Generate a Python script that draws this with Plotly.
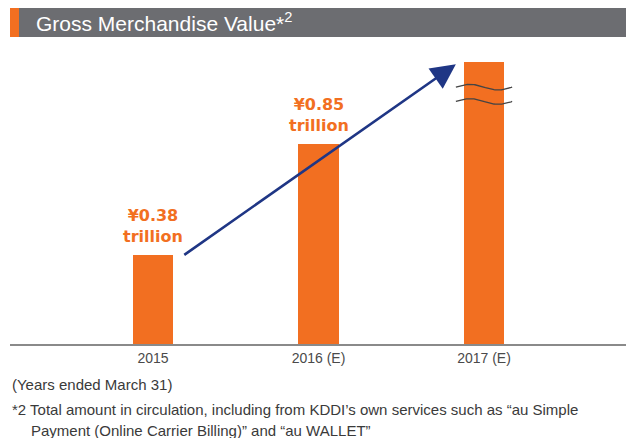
import numpy as np
import plotly.graph_objects as go

# ---- data ----
categories = ["2015", "2016 (E)", "2017 (E)"]
values = [0.38, 0.85, 1.20]          # 2017 bar is drawn on a broken axis (value not disclosed)
value_labels = ["¥0.38<br>trillion", "¥0.85<br>trillion", ""]
title_text = "Gross Merchandise Value*<sup>2</sup>"
note1 = "(Years ended March 31)"
note2a = "*2 Total amount in circulation, including from KDDI’s own services such as “au Simple"
note2b = "Payment (Online Carrier Billing)” and “au WALLET”"

ORANGE = "#F26F21"
GRAY_BAR = "#6C6D71"
NAVY = "#1F3685"

OFF = 8                      # page body margin
W, H = 634 - OFF, 438 - OFF
L, R, T, B = 10 - OFF, 6, 40 - OFF, 94
plot_h = H - T - B
plot_w = W - L - R

def py(p):  # reference pixel y -> paper y
    return (H - B - (p - OFF)) / plot_h

def px(p):  # reference pixel x -> paper x
    return ((p - OFF) - L) / plot_w

fig = go.Figure()
fig.add_trace(go.Bar(
    x=list(range(len(categories))), y=values, width=0.242,
    marker=dict(color=ORANGE, line=dict(width=0)),
    hoverinfo="skip",
))

# value labels
for i, (v, lab) in enumerate(zip(values, value_labels)):
    if lab:
        fig.add_annotation(x=i, y=v, xref="x", yref="y", text=lab, showarrow=False,
                           yanchor="bottom", yshift=7,
                           font=dict(family="DejaVu Sans", size=16, color=ORANGE, weight="bold"))

# axis break marks on 2017 bar
xs = np.linspace(2 - 0.17, 2 + 0.17, 60)
for yc in [values[2] - 0.107, values[2] - 0.168]:
    ys = yc + 0.012 * np.sin((xs - (2 - 0.17)) / 0.34 * 2 * np.pi)
    fig.add_trace(go.Scatter(x=xs, y=ys, mode="lines",
                             line=dict(color="#444444", width=1.3),
                             hoverinfo="skip", showlegend=False))

# trend arrow
fig.add_annotation(x=1.83, y=values[2] - 0.01, ax=0.18, ay=values[0] - 0.005,
                   xref="x", yref="y", axref="x", ayref="y",
                   showarrow=True, arrowhead=2, arrowsize=1.9, arrowwidth=2.6,
                   arrowcolor=NAVY, text="")

# header bar
fig.add_shape(type="rect", xref="paper", yref="paper", x0=0, x1=1,
              y0=py(37), y1=py(7), fillcolor=GRAY_BAR, line=dict(width=0), layer="below")
fig.add_shape(type="rect", xref="paper", yref="paper", x0=0, x1=px(19),
              y0=py(37), y1=py(7), fillcolor=ORANGE, line=dict(width=0))
fig.add_annotation(xref="paper", yref="paper", x=px(34), y=py(22), xanchor="left",
                   yanchor="middle", text=title_text, showarrow=False,
                   font=dict(family="Liberation Sans", size=21, color="white"))

# footnotes
note_font = dict(family="Liberation Sans", size=15, color="#3a3a3a")
fig.add_annotation(xref="paper", yref="paper", x=px(10), y=py(384), xanchor="left",
                   yanchor="middle", text=note1, showarrow=False, font=note_font)
fig.add_annotation(xref="paper", yref="paper", x=px(10), y=py(409), xanchor="left",
                   yanchor="middle", text=note2a, showarrow=False, font=note_font)
fig.add_annotation(xref="paper", yref="paper", x=px(29), y=py(430), xanchor="left",
                   yanchor="middle", text=note2b, showarrow=False, font=note_font)

fig.update_layout(
    width=W, height=H, margin=dict(l=L, r=R, t=T, b=B),
    paper_bgcolor="white", plot_bgcolor="white", showlegend=False,
    bargap=0,
    xaxis=dict(range=[-0.864, 2.870], tickmode="array",
               tickvals=list(range(len(categories))), ticktext=categories,
               showline=True, linecolor="#8a8a8a", linewidth=1.5,
               showgrid=False, zeroline=False, ticks="",
               tickfont=dict(family="Liberation Sans", size=14, color="#4a4a4a")),
    yaxis=dict(range=[0, plot_h / 235], visible=False, showgrid=False, zeroline=False),
)

fig.write_html("out.html")
